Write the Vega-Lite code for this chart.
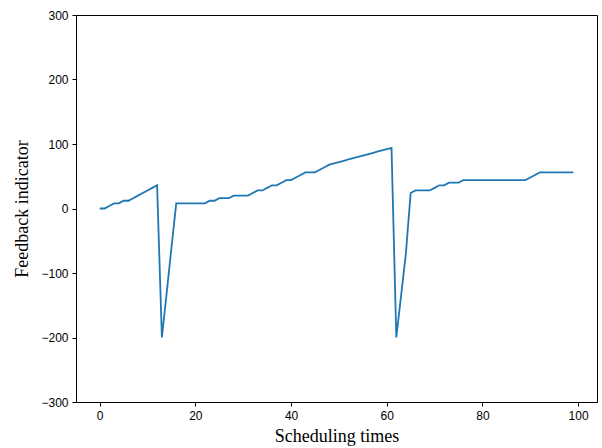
{
  "$schema": "https://vega.github.io/schema/vega-lite/v6.json",
  "width": 521,
  "height": 387,
  "autosize": {"type": "none"},
  "padding": {"left": 76, "top": 15, "right": 5, "bottom": 46},
  "background": "white",
  "config": {
    "view": {"stroke": "black", "strokeWidth": 1},
    "axis": {
      "grid": false,
      "domainColor": "black",
      "tickColor": "black",
      "tickSize": 4,
      "labelFont": "Liberation Sans",
      "labelFontSize": 12,
      "labelColor": "black",
      "titleFont": "Liberation Serif",
      "titleFontSize": 18,
      "titleFontWeight": "normal",
      "titleColor": "black"
    }
  },
  "data": {
    "values": [
      {"t": 0, "v": 0}, {"t": 1, "v": 0}, {"t": 2, "v": 4}, {"t": 3, "v": 8}, {"t": 4, "v": 8},
      {"t": 5, "v": 12}, {"t": 6, "v": 12}, {"t": 7, "v": 16}, {"t": 8, "v": 20}, {"t": 9, "v": 24},
      {"t": 10, "v": 28}, {"t": 11, "v": 32}, {"t": 12, "v": 36}, {"t": 13, "v": -200}, {"t": 14, "v": -131},
      {"t": 15, "v": -61}, {"t": 16, "v": 8}, {"t": 17, "v": 8}, {"t": 18, "v": 8}, {"t": 19, "v": 8},
      {"t": 20, "v": 8}, {"t": 21, "v": 8}, {"t": 22, "v": 8}, {"t": 23, "v": 12}, {"t": 24, "v": 12},
      {"t": 25, "v": 16}, {"t": 26, "v": 16}, {"t": 27, "v": 16}, {"t": 28, "v": 20}, {"t": 29, "v": 20},
      {"t": 30, "v": 20}, {"t": 31, "v": 20}, {"t": 32, "v": 24}, {"t": 33, "v": 28}, {"t": 34, "v": 28},
      {"t": 35, "v": 32}, {"t": 36, "v": 36}, {"t": 37, "v": 36}, {"t": 38, "v": 40}, {"t": 39, "v": 44},
      {"t": 40, "v": 44}, {"t": 41, "v": 48}, {"t": 42, "v": 52}, {"t": 43, "v": 56}, {"t": 44, "v": 56},
      {"t": 45, "v": 56}, {"t": 46, "v": 60}, {"t": 47, "v": 64}, {"t": 48, "v": 68}, {"t": 49, "v": 70},
      {"t": 50, "v": 72}, {"t": 51, "v": 74}, {"t": 52, "v": 76}, {"t": 53, "v": 78}, {"t": 54, "v": 80},
      {"t": 55, "v": 82}, {"t": 56, "v": 84}, {"t": 57, "v": 86}, {"t": 58, "v": 88}, {"t": 59, "v": 90},
      {"t": 60, "v": 92}, {"t": 61, "v": 94}, {"t": 62, "v": -200}, {"t": 63, "v": -135}, {"t": 64, "v": -70},
      {"t": 65, "v": 24}, {"t": 66, "v": 28}, {"t": 67, "v": 28}, {"t": 68, "v": 28}, {"t": 69, "v": 28},
      {"t": 70, "v": 32}, {"t": 71, "v": 36}, {"t": 72, "v": 36}, {"t": 73, "v": 40}, {"t": 74, "v": 40},
      {"t": 75, "v": 40}, {"t": 76, "v": 44}, {"t": 77, "v": 44}, {"t": 78, "v": 44}, {"t": 79, "v": 44},
      {"t": 80, "v": 44}, {"t": 81, "v": 44}, {"t": 82, "v": 44}, {"t": 83, "v": 44}, {"t": 84, "v": 44},
      {"t": 85, "v": 44}, {"t": 86, "v": 44}, {"t": 87, "v": 44}, {"t": 88, "v": 44}, {"t": 89, "v": 44},
      {"t": 90, "v": 48}, {"t": 91, "v": 52}, {"t": 92, "v": 56}, {"t": 93, "v": 56}, {"t": 94, "v": 56},
      {"t": 95, "v": 56}, {"t": 96, "v": 56}, {"t": 97, "v": 56}, {"t": 98, "v": 56}, {"t": 99, "v": 56}
    ]
  },
  "mark": {"type": "line", "color": "#1f77b4", "strokeWidth": 1.8, "clip": true},
  "encoding": {
    "x": {
      "field": "t",
      "type": "quantitative",
      "scale": {"domain": [-4.95, 103.95], "nice": false, "zero": false},
      "axis": {"values": [0, 20, 40, 60, 80, 100], "title": "Scheduling times", "titlePadding": 6, "labelPadding": 4}
    },
    "y": {
      "field": "v",
      "type": "quantitative",
      "scale": {"domain": [-300, 300], "nice": false, "zero": false},
      "axis": {"values": [-300, -200, -100, 0, 100, 200, 300], "title": "Feedback indicator", "titlePadding": 9, "labelPadding": 4}
    }
  }
}
